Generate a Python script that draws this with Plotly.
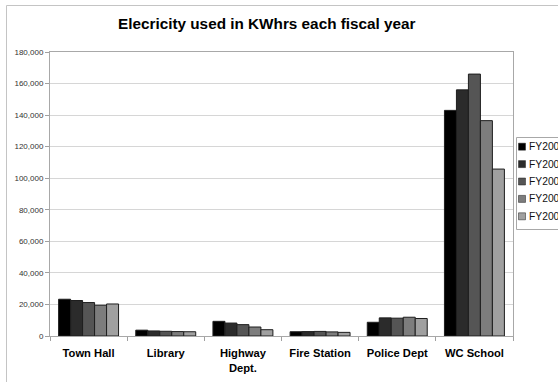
import plotly.graph_objects as go

categories = ["Town Hall", "Library", "Highway<br>Dept.", "Fire Station", "Police Dept", "WC School"]
years = ["FY2005", "FY2006", "FY2007", "FY2008", "FY2009"]
fy2005 = [23300, 3700, 9300, 2700, 8700, 143000]
fy2006 = [22500, 3200, 8200, 2800, 11500, 156000]
fy2007 = [21200, 3000, 7200, 2900, 11300, 166000]
fy2008 = [19500, 2800, 5700, 2600, 11900, 136500]
fy2009 = [20300, 2700, 4000, 2300, 11100, 105800]
series = [fy2005, fy2006, fy2007, fy2008, fy2009]
colors = ["#000000", "#2b2b2b", "#555555", "#7d7d7d", "#a0a0a0"]
y_ticks = list(range(0, 180001, 20000))

W, H = 558, 382
L, R, T, B = 50, 45, 52, 46
pw, ph = W - L - R, H - T - B

def px_x(x):
    return (x - L) / pw

def px_y(y):
    return (H - B - y) / ph

fig = go.Figure()
for name, vals, c in zip(years, series, colors):
    fig.add_trace(go.Bar(x=categories, y=vals, name=name, marker=dict(color=c, line=dict(color="#1e1e1e", width=1)),
                         showlegend=False))

shapes = []
annotations = []
# outer frame
shapes.append(dict(type="rect", xref="paper", yref="paper", x0=px_x(6.5), x1=px_x(600), y0=px_y(400), y1=px_y(5.5),
                   line=dict(color="#c4c4c4", width=1), fillcolor="rgba(0,0,0,0)", layer="below"))
# legend box
shapes.append(dict(type="rect", xref="paper", yref="paper", x0=px_x(516.5), x1=px_x(600), y0=px_y(229.5), y1=px_y(137.5),
                   line=dict(color="#a8a8a8", width=1), fillcolor="white"))
for i, (name, c) in enumerate(zip(years, colors)):
    yc = 146.7 + i * 17.4
    shapes.append(dict(type="rect", xref="paper", yref="paper", x0=px_x(518.5), x1=px_x(525.5),
                       y0=px_y(yc + 3.5), y1=px_y(yc - 3.5), line=dict(color="#1e1e1e", width=0.5), fillcolor=c))
    annotations.append(dict(text=name, xref="paper", yref="paper", x=px_x(526.5), y=px_y(yc), xanchor="left",
                            yanchor="middle", showarrow=False, font=dict(family="Liberation Sans", size=10.3, color="#111")))

annotations.append(dict(text="<b>Elecricity used in KWhrs each fiscal year</b>", xref="paper", yref="paper",
                        x=px_x(267), y=px_y(24), xanchor="center", yanchor="middle", showarrow=False,
                        font=dict(family="Liberation Sans", size=15.3, color="#000")))

fig.update_layout(
    width=W, height=H, margin=dict(l=L, r=R, t=T, b=B, autoexpand=False),
    paper_bgcolor="white", plot_bgcolor="white",
    barmode="group", bargap=0.223, bargroupgap=0,
    shapes=shapes, annotations=annotations, showlegend=False,
    font=dict(family="Liberation Sans"),
)
fig.update_yaxes(range=[0, 180000], tickvals=y_ticks, tickformat=",d", showgrid=True, gridcolor="#d6d6d6", gridwidth=1,
                 ticks="outside", ticklen=4, tickcolor="#a0a0a0", showline=True, linecolor="#a8a8a8", mirror=True,
                 tickfont=dict(family="Liberation Sans", size=8, color="#333"), zeroline=False)
fig.update_xaxes(tickson="boundaries", ticks="outside", ticklen=4, tickcolor="#a0a0a0", showline=True,
                 linecolor="#a8a8a8", mirror=True, tickfont=dict(family="Liberation Sans", size=11.2, color="#000"),
                 tickprefix="<b>", ticksuffix="</b>", ticklabelstandoff=7)

fig.write_html("out.html")
